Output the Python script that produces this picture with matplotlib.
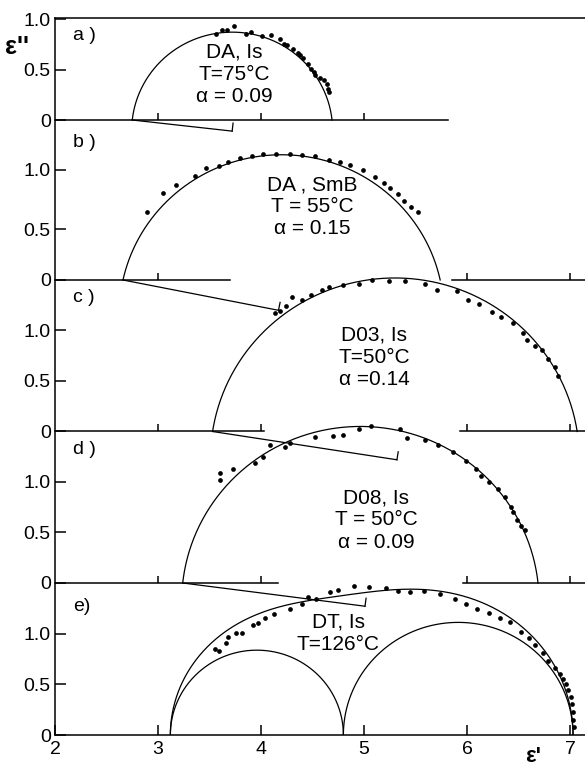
import numpy as np
import matplotlib.pyplot as plt

plt.rcParams['font.family'] = ['Liberation Sans', 'DejaVu Sans']

a_x = [3.56, 3.62, 3.67, 3.74, 3.85, 3.90, 4.01, 4.10, 4.18, 4.22, 4.25, 4.31,
       4.36, 4.38, 4.41, 4.46, 4.49, 4.51, 4.52, 4.57, 4.61, 4.64, 4.65, 4.66]
a_y = [0.85, 0.89, 0.89, 0.93, 0.85, 0.87, 0.83, 0.84, 0.80, 0.75, 0.74, 0.70,
       0.66, 0.64, 0.61, 0.55, 0.51, 0.48, 0.45, 0.42, 0.40, 0.36, 0.31, 0.28]

b_x = [2.89, 3.05, 3.17, 3.36, 3.47, 3.59, 3.68, 3.80, 3.91, 4.02, 4.15, 4.28,
       4.40, 4.52, 4.66, 4.77, 4.86, 4.99, 5.11, 5.19, 5.25, 5.33, 5.39, 5.46, 5.52]
b_y = [0.67, 0.86, 0.94, 1.03, 1.11, 1.13, 1.17, 1.21, 1.23, 1.25, 1.25, 1.25,
       1.24, 1.23, 1.19, 1.17, 1.14, 1.09, 1.02, 0.96, 0.91, 0.85, 0.78, 0.72, 0.67]

c_x = [4.14, 4.18, 4.24, 4.30, 4.40, 4.49, 4.59, 4.66, 4.80, 4.95, 5.08, 5.24,
       5.40, 5.59, 5.71, 5.90, 6.01, 6.12, 6.24, 6.33, 6.45, 6.54, 6.58, 6.66,
       6.73, 6.79, 6.85, 6.88]
c_y = [1.17, 1.19, 1.24, 1.33, 1.30, 1.35, 1.40, 1.43, 1.45, 1.46, 1.50, 1.49,
       1.49, 1.46, 1.40, 1.39, 1.30, 1.26, 1.18, 1.13, 1.07, 0.98, 0.91, 0.85,
       0.81, 0.72, 0.64, 0.55]

d_x = [3.60, 3.60, 3.73, 3.94, 4.02, 4.09, 4.23, 4.28, 4.52, 4.70, 4.80, 4.95,
       5.07, 5.35, 5.42, 5.59, 5.72, 5.86, 5.99, 6.09, 6.14, 6.21, 6.30, 6.37,
       6.43, 6.45, 6.49, 6.52, 6.56]
d_y = [1.09, 1.02, 1.13, 1.19, 1.25, 1.37, 1.35, 1.39, 1.45, 1.46, 1.47, 1.52,
       1.55, 1.52, 1.44, 1.42, 1.37, 1.30, 1.21, 1.13, 1.06, 1.00, 0.93, 0.85,
       0.75, 0.70, 0.62, 0.56, 0.52]

e_x = [3.55, 3.59, 3.66, 3.68, 3.76, 3.82, 3.92, 3.97, 4.04, 4.13, 4.28, 4.40,
       4.46, 4.53, 4.67, 4.75, 4.90, 5.05, 5.21, 5.33, 5.45, 5.58, 5.74, 5.88,
       5.99, 6.10, 6.21, 6.32, 6.42, 6.52, 6.60, 6.66, 6.74, 6.79, 6.85, 6.90,
       6.93, 6.96, 6.98, 7.01, 7.02, 7.03, 7.03, 7.04]
e_y = [0.85, 0.83, 0.91, 0.97, 1.01, 1.01, 1.09, 1.11, 1.16, 1.20, 1.25, 1.30,
       1.37, 1.35, 1.42, 1.44, 1.48, 1.47, 1.46, 1.43, 1.42, 1.43, 1.40, 1.35,
       1.30, 1.25, 1.21, 1.16, 1.12, 1.02, 0.96, 0.89, 0.81, 0.73, 0.66, 0.60,
       0.55, 0.50, 0.45, 0.38, 0.31, 0.23, 0.15, 0.08]

pts_x = [a_x, b_x, c_x, d_x, e_x]
pts_y = [a_y, b_y, c_y, d_y, e_y]

# Cole-Cole fit arcs (panels a-d)
eps_inf = [2.75, 2.66, 3.53, 3.24]
eps_s = [4.69, 5.74, 7.07, 6.69]
arc_top = [0.87, 1.24, 1.52, 1.55]
alpha_end_x = [3.72, 4.17, 5.32, 5.01]
alpha_end_y = [-0.11, -0.30, -0.28, -0.23]

# panel e: two Debye processes and their sum
e_inf = 3.12
e_mid = 4.80
e_s = 7.03
tau_ratio = 5.7

names = ['DA, Is', 'DA , SmB', 'D03, Is', 'D08, Is', 'DT, Is']
temps = ['T=75°C', 'T = 55°C', 'T=50°C', 'T = 50°C', 'T=126°C']
alphas = ['α = 0.09', 'α = 0.15', 'α =0.14', 'α = 0.09', '']
letters = ['a )', 'b )', 'c )', 'd )', 'e)']

# layout
offs = [6.089, 4.505, 3.005, 1.505, 0.0]
base_segs = [[(2, 5.82)], [(2, 3.70), (5.85, 7.2)], [(2, 4.03), (5.93, 7.2)],
             [(2, 4.17), (5.96, 7.2)]]
base_ticks = [[3, 4, 5], [3, 6, 7], [3, 4, 6, 7], [3, 4, 6, 7]]
text_x = [3.74, 4.50, 5.10, 5.12, 4.75]
text_y = [6.76, 5.45, 3.96, 2.35, 1.12]
letter_y = [0.84, 1.36, 1.33, 1.32, 1.27]
lw = 0.9

fig = plt.figure(figsize=(5.85, 7.67), dpi=100)
ax = fig.add_axes([55 / 585, 32 / 767, 530 / 585, 717 / 767])
ax.set_xlim(2, 7.146)
ax.set_ylim(0, 7.099)
ax.spines['right'].set_visible(False)
for s in ['left', 'top', 'bottom']:
    ax.spines[s].set_linewidth(1.1)

for i in range(4):
    off = offs[i]
    c = (eps_s[i] - eps_inf[i]) / 2
    h = arc_top[i]
    R = (c * c + h * h) / (2 * h)
    xc = (eps_s[i] + eps_inf[i]) / 2
    yc = h - R
    phi = np.arctan2(-yc, c)
    th = np.linspace(phi, np.pi - phi, 300)
    ax.plot(xc + R * np.cos(th), off + yc + R * np.sin(th), color='k', lw=lw)
    # alpha line with end tick
    x0, y0 = eps_inf[i], off
    x1, y1 = alpha_end_x[i], off + alpha_end_y[i]
    ax.plot([x0, x1], [y0, y1], color='k', lw=lw)
    d = np.array([x1 - x0, y1 - y0])
    n = np.array([-d[1], d[0]]) / np.hypot(*d) * 0.08
    ax.plot([x1, x1 + n[0]], [y1, y1 + n[1]], color='k', lw=lw)
    # baseline
    for s0, s1 in base_segs[i]:
        ax.plot([s0, s1], [off, off], color='k', lw=1.1, clip_on=False)
    ax.vlines(base_ticks[i], off, off + 0.07, color='k', lw=1.1)

# panel e curves
w = np.logspace(-3, 3, 800)
d1 = e_mid - e_inf
d2 = e_s - e_mid
z1 = d1 / (1 + 1j * w / tau_ratio)
z2 = d2 / (1 + 1j * w)
tot = e_inf + z1 + z2
ax.plot(tot.real, -tot.imag, color='k', lw=lw)
th = np.linspace(0, np.pi, 300)
ax.plot((e_inf + e_mid) / 2 + d1 / 2 * np.cos(th), d1 / 2 * np.sin(th), color='k', lw=lw)
ax.plot((e_mid + e_s) / 2 + d2 / 2 * np.cos(th), d2 / 2 * np.sin(th), color='k', lw=lw)

for i in range(5):
    ax.plot(np.array(pts_x[i]), np.array(pts_y[i]) + offs[i], 'o', color='k',
            ms=3.4, mec='none')
    ax.text(2.175, offs[i] + letter_y[i], letters[i], fontsize=14, ha='left', va='center')
    lines = [names[i], temps[i]] + ([alphas[i]] if alphas[i] else [])
    for k, t in enumerate(lines):
        ax.text(text_x[i], text_y[i] - k * 0.22, t, fontsize=15, ha='center', va='center')

# axis ticks
yt, yl = [], []
for i, off in enumerate(offs):
    top = 1.09 if i == 1 else 1.0
    yt += [off, off + 0.5, off + top]
    yl += ['0', '0.5', '1.0']
ax.set_yticks(yt)
ax.set_yticklabels(yl, fontsize=14)
ax.set_xticks([2, 3, 4, 5, 6, 7])
ax.set_xticklabels(['2', '3', '4', '5', '6', '7'], fontsize=14)
ax.tick_params(axis='y', direction='in', length=8, width=1.1, pad=3)
ax.tick_params(axis='x', direction='in', length=7, width=1.1, pad=4)

fig.text(17 / 585, 1 - 47 / 767, "ε''", fontsize=18, fontweight='bold', ha='center', va='center')
fig.text(533 / 585, 1 - 756 / 767, "ε'", fontsize=16, fontweight='bold', ha='center', va='center')

fig.savefig('out.png', dpi=100)
